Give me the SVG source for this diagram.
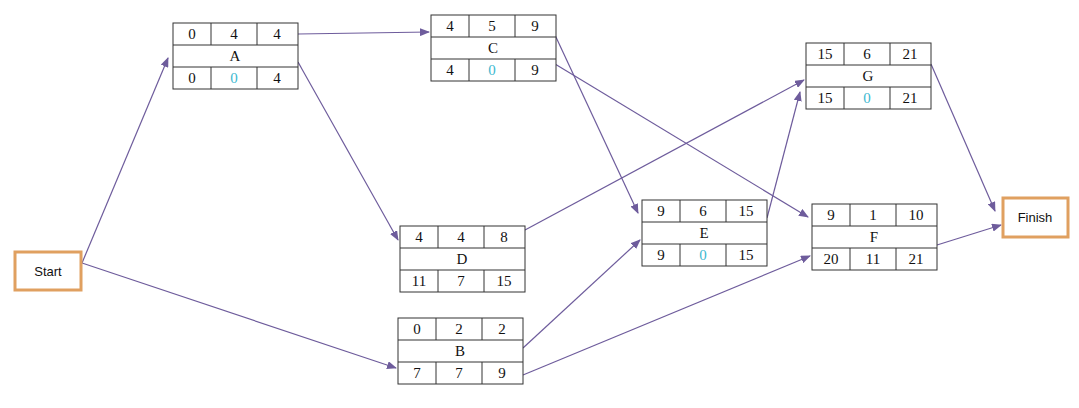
<svg xmlns="http://www.w3.org/2000/svg" width="1079" height="408" viewBox="0 0 1079 408">
<style>
.b{fill:#fff;stroke:#333;stroke-width:1}
.t{font-family:"Liberation Serif",serif;font-size:15px;text-anchor:middle;fill:#111}
.c{fill:#3cb8d0}
.e{stroke:#6e5c9c;stroke-width:1.2;fill:none;marker-end:url(#ar)}
.o{fill:#fff;stroke:#e0a060;stroke-width:3}
.s{font-family:"Liberation Sans",sans-serif;font-size:13px;text-anchor:middle;fill:#111}
</style>
<defs>
<marker id="ar" markerWidth="10" markerHeight="8" refX="9" refY="4" orient="auto" markerUnits="userSpaceOnUse"><path d="M0,0L10,4L0,8z" fill="#6e5c9c"/></marker>
<g id="box"><rect class="b" x="0" y="0" width="125" height="66"/><path class="b" d="M0,22H125M0,44H125M38,0V22M84,0V22M38,44V66M84,44V66"/></g>
</defs>
<rect width="1079" height="408" fill="#fff"/>
<g id="connectors">
<line class="e" x1="82" y1="263" x2="168" y2="58"/>
<line class="e" x1="82" y1="263" x2="396" y2="368"/>
<line class="e" x1="298" y1="34" x2="429" y2="32"/>
<line class="e" x1="298" y1="62" x2="398" y2="240"/>
<line class="e" x1="555" y1="35" x2="638" y2="213"/>
<line class="e" x1="555" y1="64" x2="808" y2="217"/>
<line class="e" x1="525" y1="230" x2="804" y2="80"/>
<line class="e" x1="767" y1="218" x2="800" y2="92"/>
<line class="e" x1="523" y1="348" x2="640" y2="240"/>
<line class="e" x1="523" y1="375" x2="810" y2="256"/>
<line class="e" x1="931" y1="64" x2="995" y2="211"/>
<line class="e" x1="937" y1="245" x2="1001" y2="225"/>
</g>
<g id="start"><rect class="o" x="15" y="252" width="66" height="38"/><text class="s" x="48" y="276">Start</text></g>
<g id="finish"><rect class="o" x="1003" y="198" width="65" height="39"/><text class="s" x="1035" y="222">Finish</text></g>
<g id="A" transform="translate(173,23)"><use href="#box"/><text class="t" x="19" y="16">0</text><text class="t" x="61" y="16">4</text><text class="t" x="104" y="16">4</text><text class="t" x="62" y="38">A</text><text class="t" x="19" y="60">0</text><text class="t c" x="61" y="60">0</text><text class="t" x="104" y="60">4</text></g>
<g id="C" transform="translate(431,15)"><use href="#box"/><text class="t" x="19" y="16">4</text><text class="t" x="61" y="16">5</text><text class="t" x="104" y="16">9</text><text class="t" x="62" y="38">C</text><text class="t" x="19" y="60">4</text><text class="t c" x="61" y="60">0</text><text class="t" x="104" y="60">9</text></g>
<g id="G" transform="translate(806,43)"><use href="#box"/><text class="t" x="19" y="16">15</text><text class="t" x="61" y="16">6</text><text class="t" x="104" y="16">21</text><text class="t" x="62" y="38">G</text><text class="t" x="19" y="60">15</text><text class="t c" x="61" y="60">0</text><text class="t" x="104" y="60">21</text></g>
<g id="D" transform="translate(400,226)"><use href="#box"/><text class="t" x="19" y="16">4</text><text class="t" x="61" y="16">4</text><text class="t" x="104" y="16">8</text><text class="t" x="62" y="38">D</text><text class="t" x="19" y="60">11</text><text class="t" x="61" y="60">7</text><text class="t" x="104" y="60">15</text></g>
<g id="E" transform="translate(642,200)"><use href="#box"/><text class="t" x="19" y="16">9</text><text class="t" x="61" y="16">6</text><text class="t" x="104" y="16">15</text><text class="t" x="62" y="38">E</text><text class="t" x="19" y="60">9</text><text class="t c" x="61" y="60">0</text><text class="t" x="104" y="60">15</text></g>
<g id="F" transform="translate(812,204)"><use href="#box"/><text class="t" x="19" y="16">9</text><text class="t" x="61" y="16">1</text><text class="t" x="104" y="16">10</text><text class="t" x="62" y="38">F</text><text class="t" x="19" y="60">20</text><text class="t" x="61" y="60">11</text><text class="t" x="104" y="60">21</text></g>
<g id="B" transform="translate(398,318)"><use href="#box"/><text class="t" x="19" y="16">0</text><text class="t" x="61" y="16">2</text><text class="t" x="104" y="16">2</text><text class="t" x="62" y="38">B</text><text class="t" x="19" y="60">7</text><text class="t" x="61" y="60">7</text><text class="t" x="104" y="60">9</text></g>
</svg>
